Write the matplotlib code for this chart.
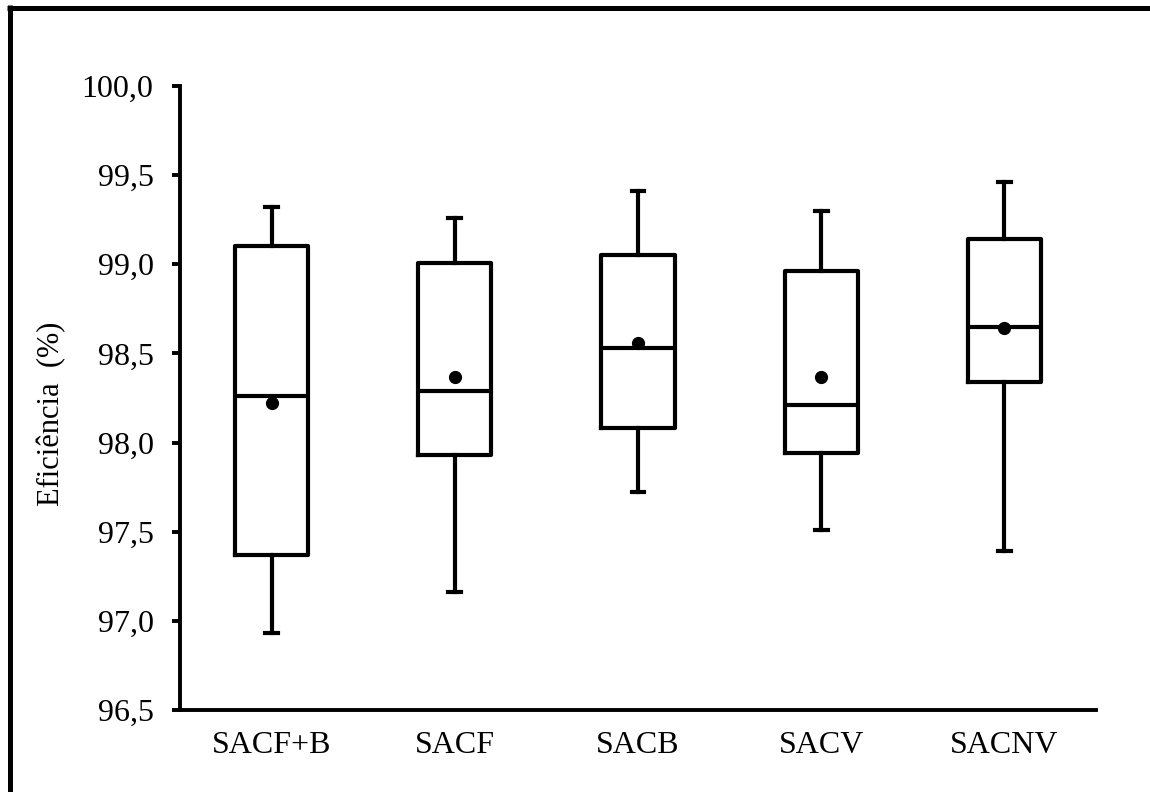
import matplotlib.pyplot as plt
from matplotlib.lines import Line2D
from matplotlib.ticker import FuncFormatter

plt.rcParams["font.family"] = ["Liberation Serif", "DejaVu Serif"]

groups = ["SACF+B", "SACF", "SACB", "SACV", "SACNV"]
whisk_lo = [96.93, 97.16, 97.72, 97.51, 97.39]
q1 = [97.37, 97.93, 98.08, 97.94, 98.34]
median = [98.26, 98.29, 98.53, 98.21, 98.65]
q3 = [99.10, 99.01, 99.05, 98.96, 99.14]
whisk_hi = [99.32, 99.26, 99.41, 99.30, 99.46]
means = [98.22, 98.37, 98.56, 98.37, 98.64]

stats = []
for i in range(len(groups)):
    stats.append({"label": groups[i], "whislo": whisk_lo[i], "q1": q1[i],
                  "med": median[i], "q3": q3[i], "whishi": whisk_hi[i],
                  "mean": means[i], "fliers": []})

fig = plt.figure(figsize=(11.5, 7.92), dpi=100)
ax = fig.add_axes([180 / 1150, 1 - 710 / 792, (1096 - 180) / 1150, (710 - 86) / 792])

lw = 3.0
ax.bxp(stats, positions=range(len(groups)), widths=0.4, capwidths=0.07,
       showmeans=True, showfliers=False,
       boxprops=dict(color="black", linewidth=lw),
       medianprops=dict(color="black", linewidth=lw),
       whiskerprops=dict(color="black", linewidth=lw),
       capprops=dict(color="black", linewidth=lw),
       meanprops=dict(marker="o", markerfacecolor="black",
                      markeredgecolor="black", markersize=8.5))

ax.set_xlim(-0.5, len(groups) - 0.5)
ax.set_ylim(96.5, 100.0)
ax.set_yticks([96.5, 97.0, 97.5, 98.0, 98.5, 99.0, 99.5, 100.0])
ax.yaxis.set_major_formatter(FuncFormatter(lambda v, p: f"{v:.1f}".replace(".", ",")))
ax.set_xticks(range(len(groups)))
ax.set_xticklabels(groups)

for s in ["top", "right"]:
    ax.spines[s].set_visible(False)
for s in ["left", "bottom"]:
    ax.spines[s].set_linewidth(2.8)
ax.tick_params(axis="y", direction="out", length=6, width=2.8, pad=13, labelsize=23)
ax.tick_params(axis="x", length=0, pad=15, labelsize=23)

fig.text(52 / 1150, 1 - 414 / 792, "Eficiência  (%)", rotation=90,
         ha="center", va="center", fontsize=22)

# outer frame (only top and left edges visible)
fig.add_artist(Line2D([7 / 1150, 1], [1 - 7.5 / 792, 1 - 7.5 / 792],
                      transform=fig.transFigure, color="black", linewidth=3.6,
                      solid_capstyle="butt"))
fig.add_artist(Line2D([9.5 / 1150, 9.5 / 1150], [0, 1 - 5 / 792],
                      transform=fig.transFigure, color="black", linewidth=3.6,
                      solid_capstyle="butt"))

fig.savefig("out.png", dpi=100)
